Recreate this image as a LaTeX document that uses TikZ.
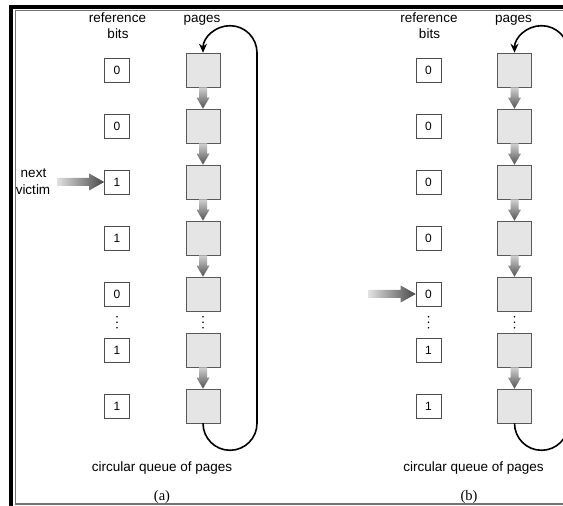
\documentclass[tikz,border=0pt]{standalone}
\usepackage{fontspec}
\newfontfamily\labfont{Liberation Sans}
\newfontfamily\subserif{Liberation Serif}
\usetikzlibrary{arrows.meta,calc}
\newcommand\bitfont{\labfont\fontsize{12}{14}\selectfont}
\newcommand\lblfont{\labfont\fontsize{13.5}{16}\selectfont}
\newcommand\subfont{\subserif\fontsize{14.5}{16}\selectfont}
\tikzset{
  bitbox/.style={draw=black!70, line width=0.6pt, minimum width=25pt, minimum height=24pt, inner sep=0pt, font=\bitfont},
  pagebox/.style={draw=black!65, fill=black!10, line width=0.6pt, minimum size=34pt, inner sep=0pt},
  lbl/.style={font=\lblfont, inner sep=0pt, anchor=base},
  sublbl/.style={font=\subfont, inner sep=0pt, anchor=base},
  looppath/.style={line width=1.6pt, black, -{Stealth[length=9pt,width=8pt]}},
  vshade/.style={top color=black!18, bottom color=black!68, draw=none},
  hshade/.style={left color=black!12, right color=black!72, draw=none}
}
% fat gradient arrow from page #1 down to page #2
\newcommand\pgdnarrow[2]{%
  \shade[vshade] ($(#1.south)+(-4,0)$) -- ($(#1.south)+(4,0)$) -- ($(#2.north)+(4,11)$)
    -- ($(#2.north)+(6.5,11)$) -- (#2.north) -- ($(#2.north)+(-6.5,11)$)
    -- ($(#2.north)+(-4,11)$) -- cycle;}
% fat gradient arrow pointing right at node #1
\newcommand\pgrtarrow[1]{%
  \shade[hshade] ($(#1.west)+(-47,4)$) -- ($(#1.west)+(-15,4)$) -- ($(#1.west)+(-15,8.5)$)
    -- (#1.west) -- ($(#1.west)+(-15,-8.5)$) -- ($(#1.west)+(-15,-4)$)
    -- ($(#1.west)+(-47,-4)$) -- cycle;}
\newcommand\drawpanel[3]{%
  \begin{scope}[xshift=#2pt]
    \node[lbl] (#1ref) at (117.5,483.5) {reference};
    \node[lbl] (#1bits) at (118,467) {bits};
    \node[lbl] (#1pages) at (202,483.5) {pages};
    \foreach \v [count=\i] in {#3} {
      \node[bitbox] (#1b\i) at (117,492-56*\i) {\bitfont\v};
      \node[pagebox] (#1p\i) at (203,492-56*\i) {};
    }
    \foreach \yy in {189.3,183.8,178.3} {
      \fill (117,\yy) circle (0.9);
      \fill (203,\yy) circle (0.9);
    }
    \node[lbl] (#1cap) at (162,34) {circular queue of pages};
  \end{scope}
  \pgdnarrow{#1p1}{#1p2}
  \pgdnarrow{#1p2}{#1p3}
  \pgdnarrow{#1p3}{#1p4}
  \pgdnarrow{#1p4}{#1p5}
  \pgdnarrow{#1p6}{#1p7}
  \draw[looppath] (#1p7.south) arc[start angle=180, end angle=360, radius=27]
    -- ($(#1p1.north)+(54,0)$) arc[start angle=0, end angle=180, radius=27];
}
\begin{document}
\begin{tikzpicture}[x=1pt,y=1pt]
\useasboundingbox (0,0) rectangle (563,506);
\clip (0,0) rectangle (563,506);
\fill[white] (0,0) rectangle (563,506);
% frame
\fill[black] (9,0) rectangle (13,501);
\fill[black] (9,497) rectangle (563,501);
\draw[black!55, line width=1.2pt] (563,495.4) -- (15.3,495.4) -- (15.3,2) -- (563,2);
% panels
\drawpanel{a}{0}{0,0,1,1,0,1,1}
\drawpanel{b}{311.5}{0,0,0,0,0,1,1}
\node[lbl] (nexttxt) at (33.5,328) {next};
\node[lbl] (victimtxt) at (33,311) {victim};
\pgrtarrow{ab3}
\pgrtarrow{bb5}
\node[sublbl] (alab) at (162,5.5) {(a)};
\node[sublbl] (blab) at (469,5.5) {(b)};
\end{tikzpicture}
\end{document}
